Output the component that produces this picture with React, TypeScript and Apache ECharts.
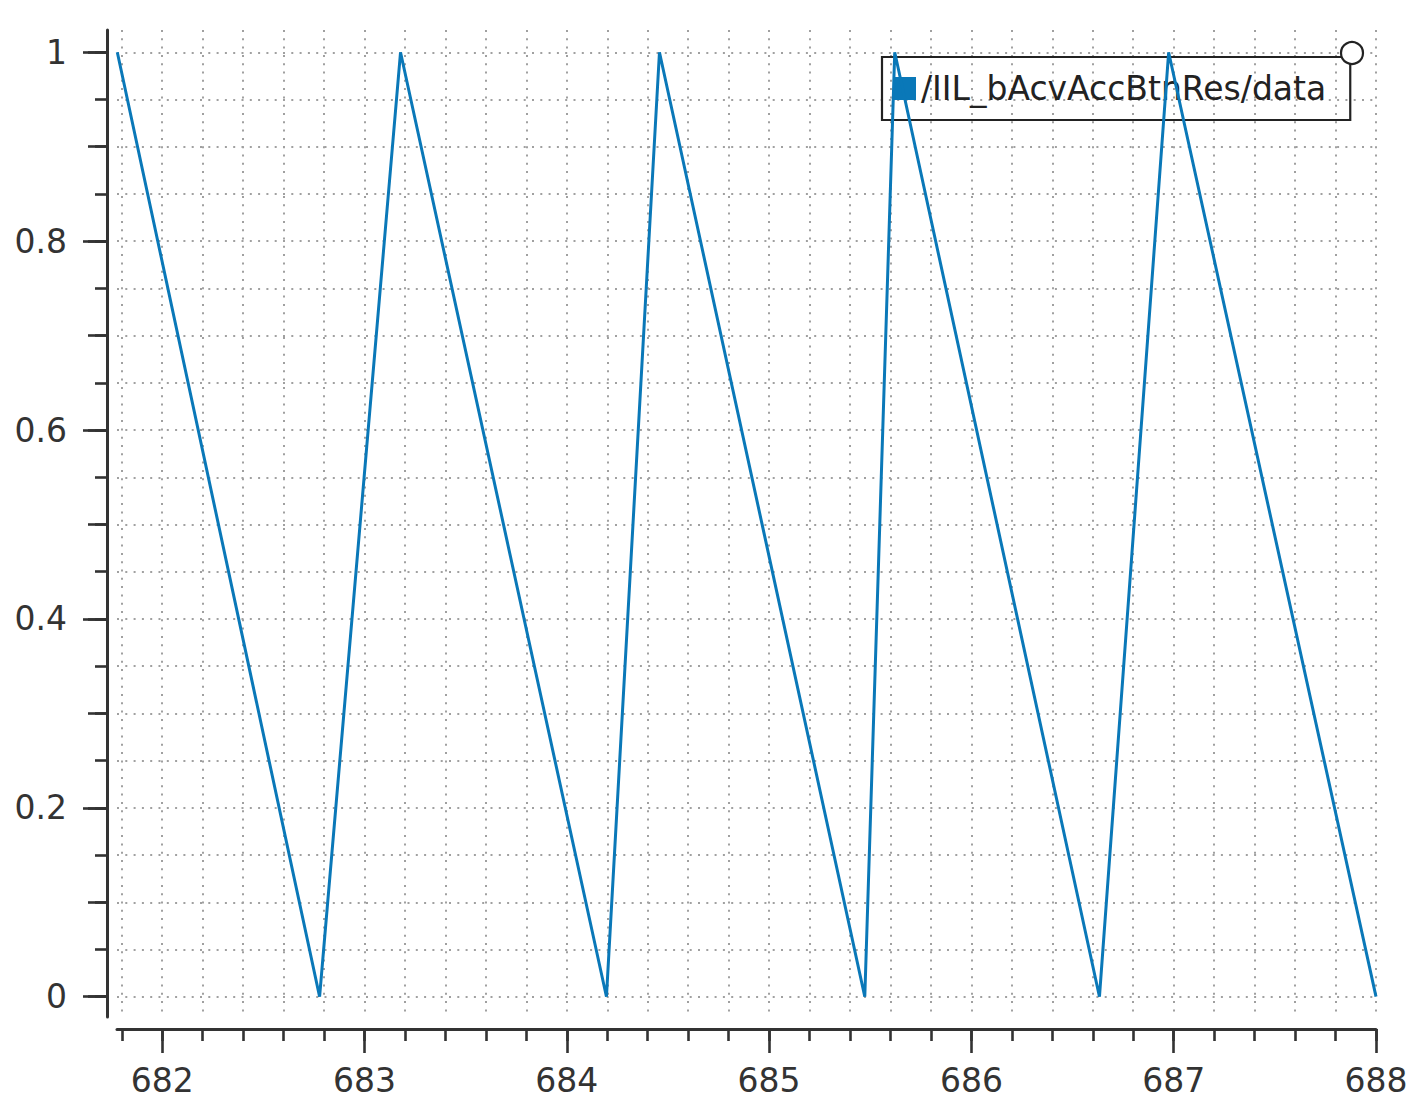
import React, { useEffect, useRef } from "react";
import * as echarts from "echarts";

const seriesName = "/IIL_bAcvAccBtnRes/data";
const timeValues = [681.778, 682.778, 683.178, 684.196, 684.458, 685.473, 685.621, 686.633, 686.975, 688.0];
const signalValues = [1, 0, 1, 0, 1, 0, 1, 0, 1, 0];

const xLabelTicks = [682, 683, 684, 685, 686, 687, 688];
const xMinorTicks = [681.8, 682, 682.2, 682.4, 682.6, 682.8, 683, 683.2, 683.4, 683.6, 683.8, 684, 684.2, 684.4, 684.6, 684.8, 685, 685.2, 685.4, 685.6, 685.8, 686, 686.2, 686.4, 686.6, 686.8, 687, 687.2, 687.4, 687.6, 687.8, 688];
const yLabelTicks = [0, 0.2, 0.4, 0.6, 0.8, 1];
const yMidTicks = [0, 0.1, 0.2, 0.3, 0.4, 0.5, 0.6, 0.7, 0.8, 0.9, 1];
const yMinorTicks = [0, 0.05, 0.1, 0.15, 0.2, 0.25, 0.3, 0.35, 0.4, 0.45, 0.5, 0.55, 0.6, 0.65, 0.7, 0.75, 0.8, 0.85, 0.9, 0.95, 1];

const X_MIN = 681.7765;
const X_MAX = 688;
const Y_MIN = -0.0215;
const Y_MAX = 1.0236;

const FONT = "DejaVu Sans";
const AXIS_COLOR = "#333333";
const LINE_COLOR = "#0a78b8";
const GRID_LINE = { show: true, lineStyle: { color: "#a0a0a0", width: 2, type: [2, 6.3] as any } };

export default function App() {
  const ref = useRef<HTMLDivElement>(null);

  useEffect(() => {
    if (!ref.current) return;
    const chart = echarts.init(ref.current, null, { renderer: "svg" });

    const yBase = {
      type: "value",
      min: Y_MIN,
      max: Y_MAX,
      position: "left",
      offset: 10,
      axisLine: { show: false, onZero: false },
      axisLabel: { show: false },
      splitLine: { show: false },
    };
    const xBase = {
      type: "value",
      min: X_MIN,
      max: X_MAX,
      position: "bottom",
      offset: 12,
      axisLine: { show: false, onZero: false },
      axisLabel: { show: false },
      splitLine: { show: false },
    };

    const option: any = {
      animation: false,
      backgroundColor: "#ffffff",
      grid: { left: 117, right: 43, top: 30, bottom: 91, containLabel: false },
      legend: {
        show: true,
        data: [seriesName],
        left: 882,
        top: 57,
        padding: [15, 24, 15, 11],
        borderColor: "#222222",
        borderWidth: 2.2,
        icon: "rect",
        itemWidth: 23,
        itemHeight: 23,
        textStyle: { fontFamily: FONT, fontSize: 33, color: "#222222" },
      },
      xAxis: [
        {
          ...xBase,
          axisLine: { show: true, onZero: false, lineStyle: { color: AXIS_COLOR, width: 3 } },
          axisTick: { show: true, length: 24, customValues: xLabelTicks, lineStyle: { color: AXIS_COLOR, width: 2.6 } },
          axisLabel: {
            show: true,
            customValues: xLabelTicks,
            margin: 35,
            fontFamily: FONT,
            fontSize: 33,
            color: AXIS_COLOR,
            formatter: (v: number) => String(Math.round(v)),
          },
        },
        {
          ...xBase,
          axisTick: { show: true, length: 12, customValues: xMinorTicks, lineStyle: { color: AXIS_COLOR, width: 2.6 } },
          splitLine: GRID_LINE,
        },
      ],
      yAxis: [
        {
          ...yBase,
          axisLine: { show: true, onZero: false, lineStyle: { color: AXIS_COLOR, width: 3 } },
          axisTick: { show: true, length: 24, customValues: yLabelTicks, lineStyle: { color: AXIS_COLOR, width: 2.6 } },
          axisLabel: {
            show: true,
            customValues: yLabelTicks,
            margin: 40,
            fontFamily: FONT,
            fontSize: 33,
            color: AXIS_COLOR,
            formatter: (v: number) => String(Math.round(v * 10) / 10),
          },
        },
        {
          ...yBase,
          axisTick: { show: true, length: 19, customValues: yMidTicks, lineStyle: { color: AXIS_COLOR, width: 2.6 } },
        },
        {
          ...yBase,
          axisTick: { show: true, length: 12, customValues: yMinorTicks, lineStyle: { color: AXIS_COLOR, width: 2.6 } },
          splitLine: GRID_LINE,
        },
      ],
      graphic: [
        {
          type: "circle",
          shape: { cx: 1352, cy: 53, r: 11 },
          style: { fill: "#ffffff", stroke: "#222222", lineWidth: 2.2 },
          z: 100,
        },
      ],
      series: [
        {
          name: seriesName,
          type: "line",
          xAxisIndex: 0,
          yAxisIndex: 0,
          data: timeValues.map((t, i) => [t, signalValues[i]]),
          showSymbol: false,
          symbol: "none",
          lineStyle: { color: LINE_COLOR, width: 3 },
          itemStyle: { color: LINE_COLOR },
          z: 5,
        },
      ],
    };

    chart.setOption(option);
    return () => chart.dispose();
  }, []);

  return (
    <div
      ref={ref}
      style={{ position: "fixed", left: 0, top: 0, width: 1419, height: 1108, background: "#fff" }}
    />
  );
}
